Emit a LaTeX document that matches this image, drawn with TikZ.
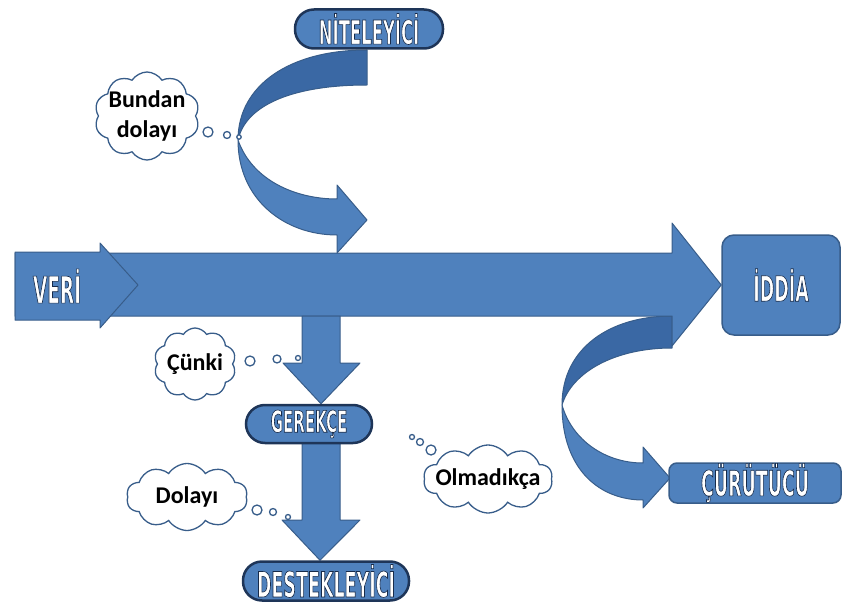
\documentclass[tikz,border=0pt]{standalone}
\usepackage{fontspec}
\usetikzlibrary{shapes.symbols,backgrounds}
\setmainfont{Carlito}
\newfontfamily\agency[FakeStretch=0.5]{DejaVu Sans}
\definecolor{mavi}{RGB}{79,129,189}
\definecolor{koyumavi}{RGB}{58,104,164}
\definecolor{kenar}{RGB}{56,93,138}
\definecolor{yazirengi}{RGB}{23,43,75}
% beyaz harf, koyu kontur
\newcommand{\etiket}[1]{\special{pdf:literal direct 0.09 0.17 0.29 RG 0.6 w 2 Tr}#1\special{pdf:literal direct 0 Tr}}

\begin{document}
\begin{tikzpicture}[x=1pt,y=-1pt,
	blok/.style={fill=mavi,draw=kenar,line width=1pt,line join=round},
	koyublok/.style={blok,fill=koyumavi},
	hap/.style={rectangle,rounded corners=19pt,fill=mavi,draw=yazirengi!80!kenar,line width=2.5pt,text=white,inner sep=0pt},
	kutu/.style={rectangle,fill=mavi,draw=kenar,line width=1.5pt,text=white,inner sep=0pt},
	bulut/.style={cloud,cloud puffs=10,cloud puff arc=115,cloud ignores aspect,draw=kenar,fill=white,line width=1.3pt,inner sep=0pt},
	kabarcik/.style={draw=kenar,fill=white,line width=1.3pt},
	bulutyazi/.style={font=\bfseries\fontsize{24pt}{30pt}\selectfont,align=center}]
	\useasboundingbox (0,0) rectangle (843,604);

	\node[hap,minimum width=148pt,minimum height=39pt,font=\agency\bfseries\fontsize{33pt}{33pt}\selectfont] (nitel) at (369,29) {\etiket{NİTELEYİCİ}};
	\node[kutu,rounded corners=12pt,minimum width=118pt,minimum height=100pt,font=\agency\bfseries\fontsize{35pt}{35pt}\selectfont] (iddia) at (781,285) {\etiket{İDDİA}};
	\node[hap,minimum width=126pt,minimum height=38pt,font=\agency\bfseries\fontsize{30pt}{30pt}\selectfont] (gerekce) at (309,424) {\etiket{GEREKÇE}};
	\node[hap,minimum width=166pt,minimum height=39pt,font=\agency\bfseries\fontsize{35pt}{35pt}\selectfont] (destek) at (326,581) {\etiket{DESTEKLEYİCİ}};
	\node[kutu,rounded corners=8pt,minimum width=172pt,minimum height=40pt,font=\agency\bfseries\fontsize{35pt}{35pt}\selectfont] (curutucu) at (755,483) {\etiket{ÇÜRÜTÜCÜ}};

	\begin{scope}[on background layer]
		% curutucuye giden egri ok
		\draw[koyublok] (672,316) -- (672,348) .. controls (615,348) and (572,372) .. (562,405) .. controls (562,348) and (610,316) .. (672,316) -- cycle;
		\draw[blok] (562,405) .. controls (562,470) and (600,500) .. (643,500) -- (643,508) -- (670,478) -- (643,447) -- (643,463) .. controls (605,463) and (572,440) .. (562,405) -- cycle;
		% ana ok
		\draw[blok] (15,253) -- (672,253) -- (672,223) -- (iddia.west) -- (672,346) -- (672,316) -- (15,316) -- cycle;
		% niteleyiciden gelen egri ok
		\draw[koyublok] (367,50) .. controls (290,50) and (238,85) .. (238,140) .. controls (246,104) and (295,85) .. (367,85) -- cycle;
		\draw[blok] (238,140) .. controls (238,200) and (285,235) .. (337,235) -- (337,253) -- (367,220) -- (337,185) -- (337,199) .. controls (295,199) and (252,180) .. (238,140) -- cycle;
		% asagi oklar
		\draw[blok] (302,316) -- (302,363) -- (283,363) -- (321,0 |- gerekce.north) -- (360,363) -- (340,363) -- (340,316) -- cycle;
		\draw[blok] (302,440) -- (302,520) -- (282,520) -- (320,0 |- destek.north) -- (360,520) -- (340,520) -- (340,440) -- cycle;
	\end{scope}

	\draw[blok] (15,252) -- (100,252) -- (100,243) -- (138,285) -- (100,328) -- (100,320) -- (15,320) -- cycle;
	\node[text=white,font=\agency\bfseries\fontsize{37pt}{37pt}\selectfont] (veri) at (57,286) {\etiket{VERİ}};

	\node[bulut,minimum width=105pt,minimum height=88pt,label={[bulutyazi]center:Bundan\\dolayı}] (bundan) at (147,116) {};
	\node[bulut,minimum width=82pt,minimum height=72pt,label={[bulutyazi]center:Çünki}] (cunki) at (195,364) {};
	\node[bulut,minimum width=121pt,minimum height=67pt,label={[bulutyazi]center:Dolayı}] (dolayi) at (187,497) {};
	\node[bulut,minimum width=129pt,minimum height=68pt,label={[bulutyazi]center:Olmadıkça}] (olmadikca) at (488,479) {};

	\draw[kabarcik] (208,132) circle (5);
	\draw[kabarcik] (227,135) circle (3.5);
	\draw[kabarcik] (239,137) circle (2.2);
	\draw[kabarcik] (250,361) circle (5);
	\draw[kabarcik] (277,359) circle (4);
	\draw[kabarcik] (298,358) circle (2.5);
	\draw[kabarcik] (257,510) circle (5);
	\draw[kabarcik] (273,512) circle (3.5);
	\draw[kabarcik] (288,517) circle (2.5);
	\draw[kabarcik] (431,450) circle (5);
	\draw[kabarcik] (420,442) circle (3.5);
	\draw[kabarcik] (412,437) circle (2.5);
\end{tikzpicture}
\end{document}
